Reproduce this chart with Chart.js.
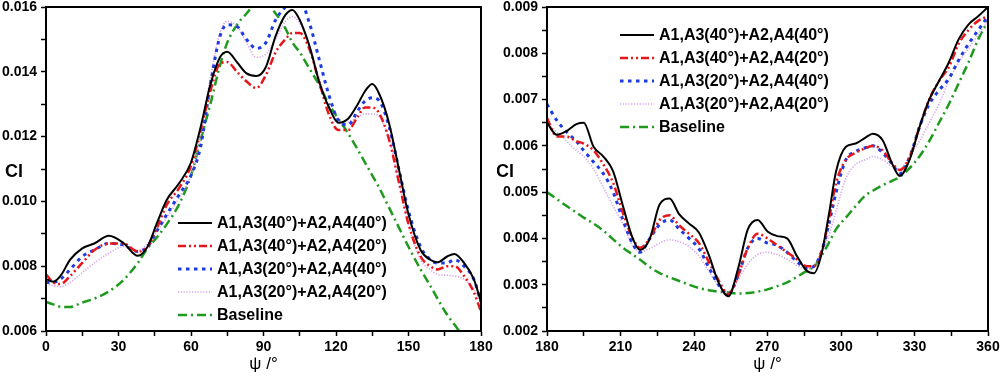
<!DOCTYPE html>
<html lang="en">

<head>
    <meta charset="UTF-8">
    <title>Cl vs psi</title>
    <script src="https://cdn.jsdelivr.net/npm/chart.js"></script>
    <style>
        body { margin: 0; background: #fff; }
        #wrap { position: relative; width: 1000px; height: 378px; overflow: hidden; }
        canvas { position: absolute; top: 0; }
    </style>
</head>

<body>
    <div id="wrap">
        <canvas id="leftChart" width="495" height="378" style="left:0"></canvas>
        <canvas id="rightChart" width="503" height="378" style="left:497px"></canvas>
    </div>

    <script>
        // series labels
        const labels = ['A1,A3(40°)+A2,A4(40°)', 'A1,A3(40°)+A2,A4(20°)', 'A1,A3(20°)+A2,A4(40°)', 'A1,A3(20°)+A2,A4(20°)', 'Baseline'];

        // left panel, psi 0..180
        const psiL = [0, 3, 6, 10, 15, 20, 26, 32, 38, 42, 46, 50, 55, 60, 64, 68, 72, 75, 79, 83, 87, 91, 95, 99, 102, 105, 109, 113, 117, 121, 125, 129, 132, 135, 138, 142, 146, 150, 155, 159, 162, 166, 169, 173, 177, 180];
        const blackL = [0.0076, 0.00752, 0.0077, 0.0082, 0.00855, 0.0087, 0.00894, 0.00872, 0.00832, 0.0086, 0.00935, 0.01005, 0.01055, 0.0112, 0.0123, 0.0136, 0.01445, 0.01462, 0.0143, 0.01395, 0.01387, 0.01415, 0.0151, 0.01575, 0.01591, 0.0156, 0.0148, 0.0137, 0.01292, 0.01243, 0.01255, 0.013, 0.0134, 0.01362, 0.0133, 0.0124, 0.011, 0.0096, 0.0085, 0.0082, 0.00812, 0.0083, 0.00838, 0.0081, 0.0076, 0.0069];
        const redL = [0.00775, 0.0075, 0.00745, 0.0077, 0.0081, 0.0085, 0.0087, 0.0087, 0.00845, 0.0086, 0.0092, 0.0099, 0.0104, 0.0111, 0.0122, 0.0134, 0.01425, 0.0143, 0.014, 0.0137, 0.0135, 0.0139, 0.0146, 0.015, 0.0152, 0.0152, 0.0147, 0.0137, 0.0127, 0.0122, 0.0122, 0.01262, 0.0129, 0.0129, 0.0127, 0.0119, 0.0106, 0.0093, 0.0083, 0.008, 0.0079, 0.008, 0.008, 0.0077, 0.0072, 0.0066];
        const blueL = [0.0075, 0.0075, 0.0076, 0.0079, 0.0083, 0.0085, 0.0087, 0.00866, 0.00845, 0.0086, 0.0091, 0.0096, 0.0102, 0.0108, 0.0117, 0.0136, 0.0151, 0.01545, 0.0154, 0.015, 0.01472, 0.0149, 0.0156, 0.016, 0.0162, 0.0162, 0.0155, 0.0144, 0.0133, 0.0125, 0.01236, 0.0128, 0.0131, 0.0132, 0.0131, 0.0123, 0.011, 0.0097, 0.0086, 0.0082, 0.0081, 0.0081, 0.0082, 0.008, 0.0076, 0.0069];
        const pinkL = [0.00745, 0.0074, 0.00737, 0.0075, 0.0078, 0.0081, 0.0084, 0.0086, 0.0085, 0.0087, 0.0091, 0.0095, 0.0101, 0.0108, 0.012, 0.0138, 0.0152, 0.01556, 0.0154, 0.0149, 0.01445, 0.01455, 0.015, 0.01555, 0.0157, 0.0155, 0.0148, 0.0138, 0.0129, 0.0124, 0.01245, 0.0126, 0.0127, 0.0127, 0.0126, 0.0119, 0.0106, 0.0093, 0.0082, 0.0079, 0.00775, 0.00772, 0.0077, 0.0076, 0.0073, 0.0069];
        const greenL = [0.0069, 0.00682, 0.00675, 0.00674, 0.00688, 0.007, 0.00722, 0.00757, 0.0081, 0.00855, 0.0089, 0.0093, 0.0099, 0.0108, 0.0119, 0.013, 0.0142, 0.0149, 0.01545, 0.0158, 0.0161, 0.0161, 0.0158, 0.01535, 0.0149, 0.0146, 0.0141, 0.0136, 0.013, 0.01255, 0.0121, 0.0116, 0.0112, 0.0108, 0.0104, 0.0098, 0.0092, 0.0086, 0.0079, 0.0074, 0.007, 0.0065, 0.0062, 0.0058, 0.0055, 0.0053];

        // right panel, psi 180..360
        const psiR = [180, 184, 188, 192, 195, 199, 203, 207, 211, 215, 218, 222, 226, 230, 234, 238, 242, 246, 250, 254, 258, 262, 266, 270, 274, 278, 282, 286, 289, 292, 295, 298, 302, 306, 310, 313, 317, 321, 324, 328, 332, 336, 340, 344, 348, 352, 356, 360];
        const blackR = [0.0065, 0.00624, 0.00632, 0.00647, 0.0065, 0.00598, 0.00577, 0.00545, 0.0047, 0.004, 0.00375, 0.004, 0.00474, 0.00486, 0.00452, 0.00432, 0.00413, 0.00365, 0.00305, 0.00275, 0.00335, 0.0042, 0.0044, 0.00415, 0.00405, 0.004, 0.00362, 0.0033, 0.00325, 0.00365, 0.0045, 0.00545, 0.00598, 0.00605, 0.00618, 0.00626, 0.00612, 0.0056, 0.00535, 0.0057, 0.0064, 0.007, 0.0074, 0.0078, 0.0083, 0.00862, 0.0088, 0.009];
        const redR = [0.0066, 0.0062, 0.0062, 0.0061, 0.00605, 0.0059, 0.0056, 0.0052, 0.00455, 0.004, 0.0038, 0.004, 0.0044, 0.0045, 0.00428, 0.0041, 0.0039, 0.0035, 0.0031, 0.0028, 0.0032, 0.0038, 0.0041, 0.004, 0.00385, 0.0037, 0.00355, 0.0034, 0.0034, 0.0037, 0.0044, 0.0052, 0.0057, 0.00585, 0.00595, 0.006, 0.0059, 0.00562, 0.00548, 0.00575, 0.0064, 0.007, 0.0074, 0.0077, 0.0082, 0.0085, 0.0087, 0.0088];
        const blueR = [0.0069, 0.00655, 0.0063, 0.0061, 0.0059, 0.00565, 0.0054, 0.005, 0.0044, 0.00388, 0.0037, 0.004, 0.0043, 0.0044, 0.0042, 0.004, 0.00378, 0.00338, 0.003, 0.0028, 0.0032, 0.0038, 0.004, 0.0039, 0.00385, 0.0037, 0.0035, 0.00336, 0.0034, 0.0037, 0.0043, 0.005, 0.0057, 0.00588, 0.00596, 0.006, 0.00585, 0.0056, 0.0054, 0.00575, 0.0064, 0.0069, 0.0072, 0.00745, 0.00785, 0.0082, 0.0085, 0.0088];
        const pinkR = [0.0065, 0.0063, 0.0061, 0.0059, 0.00577, 0.0055, 0.0051, 0.0047, 0.0043, 0.00385, 0.00372, 0.00378, 0.0039, 0.00397, 0.00393, 0.00382, 0.00362, 0.0033, 0.00298, 0.00282, 0.0031, 0.00345, 0.00365, 0.0037, 0.00365, 0.00355, 0.00342, 0.00333, 0.00342, 0.0037, 0.00405, 0.0046, 0.0053, 0.0056, 0.0057, 0.00577, 0.0057, 0.00555, 0.0055, 0.0058, 0.0061, 0.0065, 0.0069, 0.0074, 0.0078, 0.0081, 0.0084, 0.0087];
        const greenR = [0.005, 0.00485, 0.0047, 0.00456, 0.00445, 0.00432, 0.00417, 0.00398, 0.0038, 0.00365, 0.00354, 0.00338, 0.00325, 0.00316, 0.00308, 0.003, 0.00293, 0.00288, 0.00285, 0.00283, 0.00281, 0.00282, 0.00285, 0.0029, 0.00297, 0.00305, 0.00317, 0.0033, 0.0034, 0.00362, 0.0039, 0.0042, 0.00445, 0.0047, 0.00493, 0.00503, 0.00515, 0.00525, 0.00533, 0.00552, 0.00577, 0.0061, 0.0065, 0.0069, 0.00735, 0.0078, 0.0083, 0.0087];

        const FONT = '"Liberation Sans", Arial, sans-serif';
        Chart.defaults.font.family = FONT;
        Chart.defaults.color = '#000';

        // line look for each series, in the same order as labels
        const styles = [
            { color: '#000000', width: 2, dash: [] },
            { color: '#e8161b', width: 2.5, dash: [8, 3, 2, 3, 2, 3] },
            { color: '#1c3be6', width: 3, dash: [3.5, 4.5] },
            { color: '#d8a2ef', width: 1.6, dash: [1.2, 1.6] },
            { color: '#1e9a1e', width: 2.5, dash: [9, 4, 2, 4] }
        ];

        // frame around plot, in-plot legend and the horizontal "Cl" label
        const decor = {
            id: 'decor',
            afterDraw(chart, args, opts) {
                const { ctx, chartArea: a } = chart;
                ctx.save();
                ctx.setLineDash([]);
                ctx.strokeStyle = '#000';
                ctx.lineWidth = 2;
                ctx.strokeRect(a.left, a.top, a.right - a.left, a.bottom - a.top);

                ctx.font = 'bold 18px ' + FONT;
                ctx.fillStyle = '#000';
                ctx.textAlign = 'center';
                ctx.textBaseline = 'middle';
                ctx.fillText('Cl', a.left + opts.clX, (a.top + a.bottom) / 2 + 3);

                ctx.textAlign = 'left';
                ctx.font = 'bold 16px ' + FONT;
                chart.data.datasets.forEach((ds, i) => {
                    const x = a.left + opts.legX;
                    const y = a.top + opts.legY + i * 23;
                    ctx.beginPath();
                    ctx.strokeStyle = ds.borderColor;
                    ctx.lineWidth = ds.borderWidth;
                    ctx.setLineDash(ds.borderDash);
                    ctx.moveTo(x, y);
                    ctx.lineTo(x + 34, y);
                    ctx.stroke();
                    ctx.setLineDash([]);
                    ctx.fillText(ds.label, x + 39, y + 1);
                });
                ctx.restore();
            }
        };

        function makeChart(id, psi, series, o) {
            const datasets = series.map((vals, i) => ({
                label: labels[i],
                data: psi.map((p, k) => ({ x: p, y: vals[k] })),
                borderColor: styles[i].color,
                borderWidth: styles[i].width,
                borderDash: styles[i].dash,
                pointRadius: 0,
                fill: false,
                cubicInterpolationMode: 'monotone',
                clip: 0
            }));
            return new Chart(document.getElementById(id), {
                type: 'line',
                data: { datasets: datasets.reverse() .reverse() },
                options: {
                    responsive: false,
                    animation: false,
                    layout: { padding: { left: 0, right: o.padRight, top: 7, bottom: 0 } },
                    plugins: {
                        legend: { display: false },
                        tooltip: { enabled: false },
                        decor: { clX: o.clX, legX: o.legX, legY: o.legY }
                    },
                    scales: {
                        x: {
                            type: 'linear', min: o.xMin, max: o.xMax,
                            ticks: {
                                stepSize: 15, autoSkip: false, maxRotation: 0, padding: 3,
                                font: { size: 14, weight: 'bold' },
                                callback: v => (v % 30 === 0 ? String(v) : '')
                            },
                            grid: { drawOnChartArea: false, tickLength: 5, tickWidth: 1.5, tickColor: '#000' },
                            border: { color: '#000', width: 2 },
                            title: { display: true, text: 'ψ /°', font: { size: 17 }, padding: { top: 0, bottom: 3 } },
                            afterFit: s => { s.height = 47; s.paddingLeft = 0; s.paddingRight = 0; }
                        },
                        y: {
                            min: o.yMin, max: o.yMax,
                            ticks: {
                                stepSize: o.yStep, autoSkip: false, padding: 4,
                                font: { size: 14, weight: 'bold', lineHeight: 1 },
                                callback: v => (Math.round(v / o.yStep) % 2 === 0 ? v.toFixed(3) : '')
                            },
                            grid: { drawOnChartArea: false, tickLength: 5, tickWidth: 1.5, tickColor: '#000' },
                            border: { color: '#000', width: 2 },
                            afterFit: s => { s.width = o.yWidth; s.paddingTop = 0; s.paddingBottom = 0; }
                        }
                    }
                },
                plugins: [decor]
            });
        }

        makeChart('leftChart', psiL, [blackL, redL, blueL, pinkL, greenL], {
            xMin: 0, xMax: 180, yMin: 0.006, yMax: 0.016, yStep: 0.001,
            yWidth: 46, padRight: 14, clX: -32, legX: 132, legY: 216
        });
        makeChart('rightChart', psiR, [blackR, redR, blueR, pinkR, greenR], {
            xMin: 180, xMax: 360, yMin: 0.002, yMax: 0.009, yStep: 0.0005,
            yWidth: 50, padRight: 12, clX: -42, legX: 73, legY: 28
        });
    </script>
</body>

</html>
